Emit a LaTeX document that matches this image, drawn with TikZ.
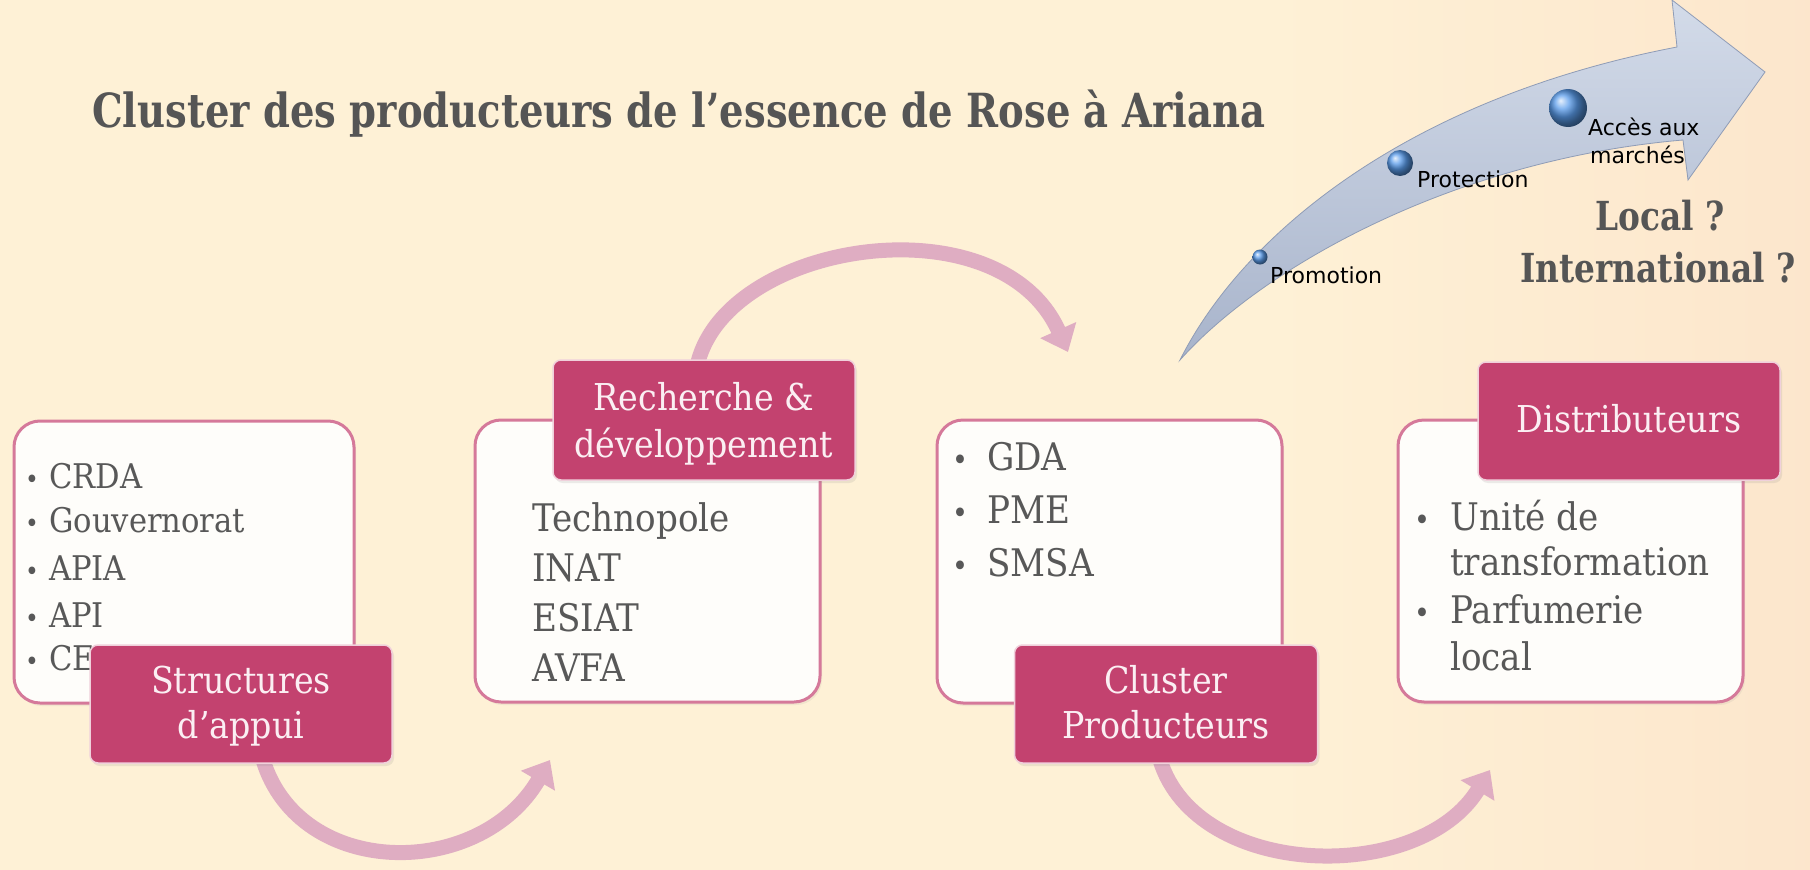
\documentclass[tikz,border=0pt]{standalone}
\usepackage{fontspec}
\setmainfont{DejaVu Serif}[FakeStretch=0.9]
\newfontfamily\titlefont{DejaVu Serif}[FakeStretch=0.82]
\newfontfamily\arrfont{DejaVu Sans}
\usetikzlibrary{arrows.meta,shadows}
\definecolor{bgleft}{HTML}{FCE0C2}
\definecolor{bgmid}{HTML}{FEF1D6}
\definecolor{bgmr}{HTML}{FBDFC6}
\definecolor{bgright}{HTML}{F6CCB6}
\definecolor{labcol}{HTML}{C3426F}
\definecolor{labtext}{HTML}{FBEFF3}
\definecolor{boxline}{HTML}{D5799A}
\definecolor{boxfill}{HTML}{FEFDFA}
\definecolor{txtgray}{HTML}{585858}
\definecolor{titlegray}{HTML}{555555}
\definecolor{pinkarrow}{HTML}{DFADC2}
\definecolor{bluetop}{HTML}{D3DBE9}
\definecolor{bluebot}{HTML}{A8B4CB}
\definecolor{blueedge}{HTML}{8F9CB6}
\definecolor{ballblue}{HTML}{5A9CEB}
\pgfdeclarehorizontalshading{bgsh}{100bp}{color(0bp)=(bgleft); color(15bp)=(bgmid); color(60bp)=(bgmid); color(85bp)=(bgmr); color(100bp)=(bgright)}
\tikzset{
  whitebox/.style={draw=boxline, line width=3pt, fill=boxfill, rounded corners=26pt,
    drop shadow={opacity=0.10, shadow xshift=2pt, shadow yshift=-3pt}},
  labbox/.style={draw=white!75!labcol, line width=1.5pt, fill=labcol, rounded corners=8pt,
    minimum width=302pt, minimum height=118pt, inner sep=0pt,
    drop shadow={opacity=0.15, shadow xshift=2pt, shadow yshift=-3pt}},
  labtxt/.style={text=labtext, font=\fontsize{37}{44}\selectfont, inner sep=0pt, anchor=base},
  itemA/.style={text=txtgray, font=\fontsize{34}{40}\selectfont, inner sep=0pt, anchor=base west},
  itemB/.style={text=txtgray, font=\fontsize{38}{44}\selectfont, inner sep=0pt, anchor=base west},
  itemC/.style={text=txtgray, font=\fontsize{38}{44}\selectfont, inner sep=0pt, anchor=base west},
  bulA/.style={text=txtgray, font=\fontsize{26}{30}\selectfont, inner sep=0pt, anchor=base},
  bulC/.style={text=txtgray, font=\fontsize{30}{30}\selectfont, inner sep=0pt, anchor=base},
  pinkflow/.style={draw=pinkarrow, line width=15pt, -{Triangle[width=38pt,length=24pt]}},
  steplbl/.style={text=black, font=\arrfont\fontsize{22}{26}\selectfont, inner sep=0pt, anchor=base west},
  bigq/.style={text=titlegray, font=\titlefont\bfseries\fontsize{40}{46}\selectfont, inner sep=0pt, anchor=base}
}
\begin{document}
\begin{tikzpicture}[x=1pt,y=-1pt]
\useasboundingbox (0,0) rectangle (1810,870);
% background
\shade[shading=bgsh] (0,0) rectangle (1810,870);

% title
\node[text=titlegray, font=\titlefont\bfseries\fontsize{47}{54}\selectfont, inner sep=0pt, anchor=base west] (title) at (92,127) {Cluster des producteurs de l’essence de Rose à Ariana};

% blue arrow
\shade[top color=bluetop, bottom color=bluebot, draw=blueedge, line width=0.8pt]
  (1180,360) .. controls (1240,240) and (1400,100) .. (1677,47) -- (1672,0) -- (1765,72)
  -- (1688,180) -- (1683,140) .. controls (1450,160) and (1260,270) .. (1180,360) -- cycle;
\shade[ball color=ballblue] (1260,257) circle (7.5);
\shade[ball color=ballblue] (1400,163) circle (13);
\shade[ball color=ballblue] (1568,108) circle (19);
\node[steplbl] (promo) at (1270,283) {Promotion};
\node[steplbl] (protec) at (1417,187) {Protection};
\node[steplbl] (acces) at (1588,135) {Accès aux};
\node[steplbl] (march) at (1590,163) {marchés};
\node[bigq] (qlocal) at (1660,230) {Local ?};
\node[bigq] (qinter) at (1658,282) {International ?};

% label box centres
\coordinate (l1c) at (241,704);
\coordinate (l2c) at (704,420);
\coordinate (l3c) at (1166,704);
\coordinate (l4c) at (1629,421);

% pink curved arrows (behind boxes)
\coordinate (a1e) at (550,760);
\coordinate (a2e) at (1068,352);
\coordinate (a3e) at (1490,770);
\coordinate (a1s) at (263,760);
\coordinate (a2s) at (698,362);
\coordinate (a3s) at (1160,760);
\draw[pinkflow] (a1s) .. controls (300,880) and (480,880) .. (a1e);
\draw[pinkflow] (a2s) .. controls (730,240) and (1000,200) .. (a2e);
\draw[pinkflow] (a3s) .. controls (1197,880) and (1420,885) .. (a3e);

% white boxes
\node[whitebox, minimum width=340pt, minimum height=282pt] (box1) at (184,562) {};
\node[whitebox, minimum width=345pt, minimum height=282pt] (box2) at (647.5,561) {};
\node[whitebox, minimum width=345pt, minimum height=283pt] (box3) at (1109.5,561.5) {};
\node[whitebox, minimum width=345pt, minimum height=282pt] (box4) at (1570.5,561) {};

% box 1 text
\node[bulA] (b1a) at (32,488) {•};
\node[bulA] (b1b) at (32,532) {•};
\node[bulA] (b1c) at (32,580) {•};
\node[bulA] (b1d) at (32,627) {•};
\node[bulA] (b1e) at (32,670) {•};
\node[itemA] (t1a) at (49,488) {CRDA};
\node[itemA] (t1b) at (49,532) {Gouvernorat};
\node[itemA] (t1c) at (49,580) {APIA};
\node[itemA] (t1d) at (49,627) {API};
\node[itemA] (t1e) at (49,670) {CE};

% box 2 text
\node[itemB] (t2a) at (532,531) {Technopole};
\node[itemB] (t2b) at (532,581) {INAT};
\node[itemB] (t2c) at (532,631) {ESIAT};
\node[itemB] (t2d) at (532,681) {AVFA};

% box 3 text
\node[bulC] (b3a) at (960,470) {•};
\node[bulC] (b3b) at (960,523) {•};
\node[bulC] (b3c) at (960,576) {•};
\node[itemC] (t3a) at (987,470) {GDA};
\node[itemC] (t3b) at (987,523) {PME};
\node[itemC] (t3c) at (987,576) {SMSA};

% box 4 text
\node[bulC] (b4a) at (1422,530) {•};
\node[bulC] (b4b) at (1422,623) {•};
\node[itemC] (t4a) at (1450,530) {Unité de};
\node[itemC] (t4b) at (1450,575) {transformation};
\node[itemC] (t4c) at (1450,623) {Parfumerie};
\node[itemC] (t4d) at (1450,670) {local};

% label boxes
\node[labbox] (lab1) at (l1c) {};
\node[labtxt] (lab1a) at (241,693) {Structures};
\node[labtxt] (lab1b) at (241,738) {d’appui};
\node[labbox, minimum height=120pt] (lab2) at (l2c) {};
\node[labtxt] (lab2a) at (704,410) {Recherche \&};
\node[labtxt] (lab2b) at (704,457) {développement};
\node[labbox, minimum width=303pt] (lab3) at (l3c) {};
\node[labtxt] (lab3a) at (1166,693) {Cluster};
\node[labtxt] (lab3b) at (1166,738) {Producteurs};
\node[labbox] (lab4) at (l4c) {};
\node[labtxt] (lab4a) at (1629,432) {Distributeurs};
\end{tikzpicture}
\end{document}
